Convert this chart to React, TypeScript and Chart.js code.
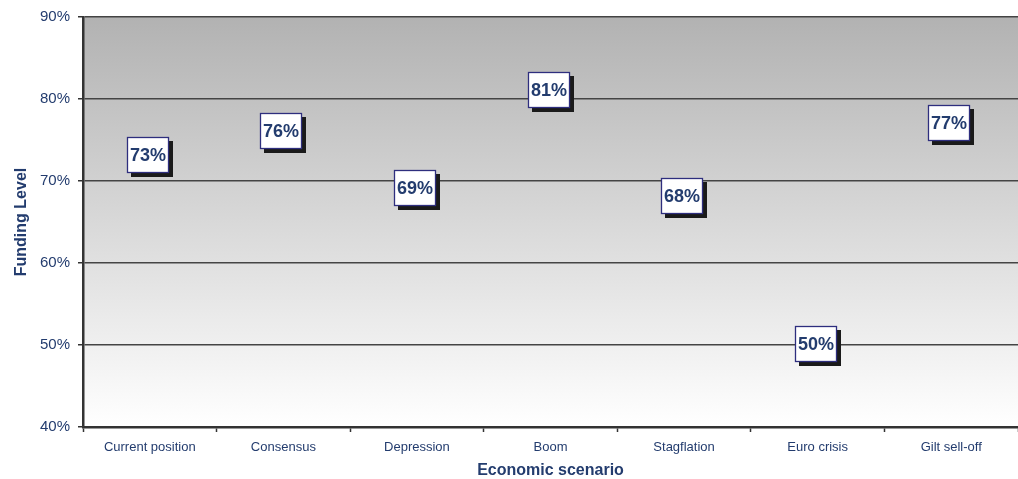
import React, { useEffect, useRef } from "react";
import { Chart, registerables } from "chart.js";

Chart.register(...registerables);

const categories = [
  "Current position",
  "Consensus",
  "Depression",
  "Boom",
  "Stagflation",
  "Euro crisis",
  "Gilt sell-off",
];
const fundingLevels = [73, 76, 69, 81, 68, 50, 77];
const yMin = 40;
const yMax = 90;
const yStep = 10;

const NAVY = "#233c6e";
const FONT = "'Liberation Sans', Arial, sans-serif";

const bgPlugin = {
  id: "bgGradient",
  beforeDraw(chart: any) {
    const { ctx, chartArea } = chart;
    if (!chartArea) return;
    const g = ctx.createLinearGradient(0, chartArea.top, 0, chartArea.bottom);
    g.addColorStop(0, "#b2b2b2");
    g.addColorStop(1, "#ffffff");
    ctx.save();
    ctx.fillStyle = g;
    ctx.fillRect(chartArea.left, chartArea.top, chartArea.right - chartArea.left, chartArea.bottom - chartArea.top);
    ctx.restore();
  },
};

const boxLabelPlugin = {
  id: "boxLabels",
  afterDatasetsDraw(chart: any) {
    const { ctx } = chart;
    const meta = chart.getDatasetMeta(0);
    const data = chart.data.datasets[0].data as number[];
    ctx.save();
    meta.data.forEach((pt: any, i: number) => {
      const w = 42;
      const h = 36;
      const x = Math.round(pt.x - 2 - w / 2);
      const y = Math.round(pt.y - 1 - h / 2);
      ctx.fillStyle = "#1a1a1a";
      ctx.fillRect(x + 4, y + 4, w, h);
      ctx.fillStyle = "#ffffff";
      ctx.fillRect(x, y, w, h);
      ctx.strokeStyle = "#2e2e7e";
      ctx.lineWidth = 1.3;
      ctx.strokeRect(x + 0.5, y + 0.5, w - 1, h - 1);
      ctx.fillStyle = NAVY;
      ctx.font = `bold 18px ${FONT}`;
      ctx.textAlign = "center";
      ctx.textBaseline = "middle";
      ctx.fillText(`${data[i]}%`, x + w / 2, y + h / 2 + 1);
    });
    ctx.restore();
  },
};

export default function App() {
  const ref = useRef<HTMLCanvasElement | null>(null);

  useEffect(() => {
    if (!ref.current) return;
    const chart = new Chart(ref.current, {
      type: "line",
      data: {
        labels: categories,
        datasets: [
          {
            data: fundingLevels,
            showLine: false,
            pointRadius: 0,
            pointHoverRadius: 0,
          },
        ],
      },
      options: {
        responsive: false,
        animation: false,
        layout: { padding: { left: 12, right: 0, top: 17, bottom: 0 } },
        plugins: {
          legend: { display: false },
          tooltip: { enabled: false },
        },
        scales: {
          x: {
            type: "category",
            offset: true,
            grid: {
              offset: true,
              drawOnChartArea: false,
              drawTicks: true,
              tickLength: 5,
              color: "#333333",
              tickWidth: 1.5,
            },
            border: { display: true, color: "#333333", width: 2.5 },
            ticks: {
              color: NAVY,
              font: { family: FONT, size: 13 },
              padding: 8,
              maxRotation: 0,
              autoSkip: false,
            },
            title: {
              display: true,
              text: "Economic scenario",
              color: NAVY,
              font: { family: FONT, size: 16, weight: "bold", lineHeight: 1 },
              padding: { top: 0, bottom: 0 },
            },
            afterFit(scale: any) {
              scale.height = 52;
            },
          },
          y: {
            min: yMin,
            max: yMax,
            ticks: {
              stepSize: yStep,
              color: NAVY,
              font: { family: FONT, size: 15 },
              padding: 8,
              callback: (v: any) => `${v}%`,
            },
            grid: {
              color: "#444444",
              lineWidth: 1.5,
              tickLength: 5,
              tickColor: "#333333",
            },
            border: { display: true, color: "#333333", width: 2.5 },
            title: {
              display: true,
              text: "Funding Level",
              color: NAVY,
              font: { family: FONT, size: 16, weight: "bold", lineHeight: 1.2 },
              padding: 0,
            },
            afterFit(scale: any) {
              scale.width = 71;
            },
          },
        },
      },
      plugins: [bgPlugin, boxLabelPlugin],
    } as any);
    return () => chart.destroy();
  }, []);

  return (
    <div style={{ position: "absolute", left: 0, top: 0, width: 1018, height: 479, background: "#ffffff" }}>
      <canvas ref={ref} width={1018} height={479} style={{ display: "block" }} />
    </div>
  );
}
